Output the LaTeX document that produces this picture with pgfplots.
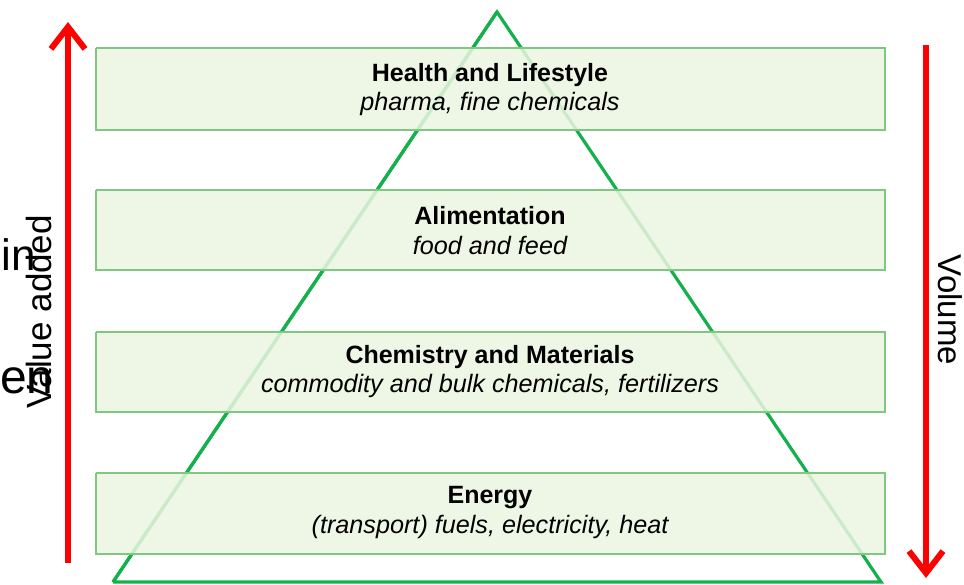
\documentclass[border=0pt]{standalone}
\usepackage{pgfplots}
\pgfplotsset{compat=1.18}
\usepackage{fontspec}
\setmainfont{Liberation Sans}
\usetikzlibrary{arrows.meta}
\definecolor{boxfill}{RGB}{235,245,224}
\definecolor{boxedge}{RGB}{128,200,128}
\definecolor{tri}{RGB}{20,176,76}
\begin{document}
\begin{tikzpicture}
\begin{axis}[
  width=482pt, height=292pt, scale only axis,
  xmin=0, xmax=964, ymin=0, ymax=584, y dir=reverse,
  axis lines=none, clip=false,
]
% pyramid
\addplot[tri, line width=1.6pt, line join=miter] coordinates {(113,582) (497,12) (881,582) (113,582)};
\addplot[tri, line width=1.6pt] coordinates {(113,582) (497,12)};
% boxes
\addplot[draw=boxedge, fill=boxfill, fill opacity=0.85, line width=1pt] coordinates {(96,48) (885,48) (885,130) (96,130) (96,48)};
\addplot[draw=boxedge, fill=boxfill, fill opacity=0.85, line width=1pt] coordinates {(96,190) (885,190) (885,270) (96,270) (96,190)};
\addplot[draw=boxedge, fill=boxfill, fill opacity=0.85, line width=1pt] coordinates {(96,332) (885,332) (885,412) (96,412) (96,332)};
\addplot[draw=boxedge, fill=boxfill, fill opacity=0.85, line width=1pt] coordinates {(96,473) (885,473) (885,554) (96,554) (96,473)};
% arrows
\addplot[red, line width=3pt, -{Straight Barb[length=11pt, width=17pt, line width=3pt]}] coordinates {(68,563) (68,22)};
\addplot[red, line width=3pt, -{Straight Barb[length=11pt, width=17pt, line width=3pt]}] coordinates {(926,45) (926,578)};
% texts
\node[font=\fontsize{12.5}{14}\selectfont\bfseries] at (axis cs:490,75) {Health and Lifestyle};
\node[font=\fontsize{12.6}{14}\selectfont\itshape] at (axis cs:490,104) {pharma, fine chemicals};
\node[font=\fontsize{12.5}{14}\selectfont\bfseries] at (axis cs:490,216) {Alimentation};
\node[font=\fontsize{12.6}{14}\selectfont\itshape] at (axis cs:490,245) {food and feed};
\node[font=\fontsize{12.5}{14}\selectfont\bfseries] at (axis cs:490,357) {Chemistry and Materials};
\node[font=\fontsize{12.6}{14}\selectfont\itshape] at (axis cs:490,386) {commodity and bulk chemicals, fertilizers};
\node[font=\fontsize{12.5}{14}\selectfont\bfseries] at (axis cs:490,498) {Energy};
\node[font=\fontsize{12.6}{14}\selectfont\itshape] at (axis cs:490,527) {(transport) fuels, electricity, heat};
% side labels
\node[font=\fontsize{22}{24}\selectfont, anchor=base west, inner sep=0pt] at (axis cs:1,270) {in};
\node[font=\fontsize{24}{26}\selectfont, anchor=base east, inner sep=0pt] at (axis cs:54,393) {en};
\node[font=\fontsize{17.5}{20}\selectfont, rotate=90, anchor=base, inner sep=0pt] at (axis cs:51,312) {Value added};
\node[font=\fontsize{16.5}{20}\selectfont, rotate=-90, anchor=base, inner sep=0pt] at (axis cs:938,310) {Volume};
\coordinate (bl) at (axis cs:0,584);
\coordinate (tr) at (axis cs:964,0);
\end{axis}
\pgfresetboundingbox
\path[use as bounding box] (bl) rectangle (tr);
\end{tikzpicture}
\end{document}
